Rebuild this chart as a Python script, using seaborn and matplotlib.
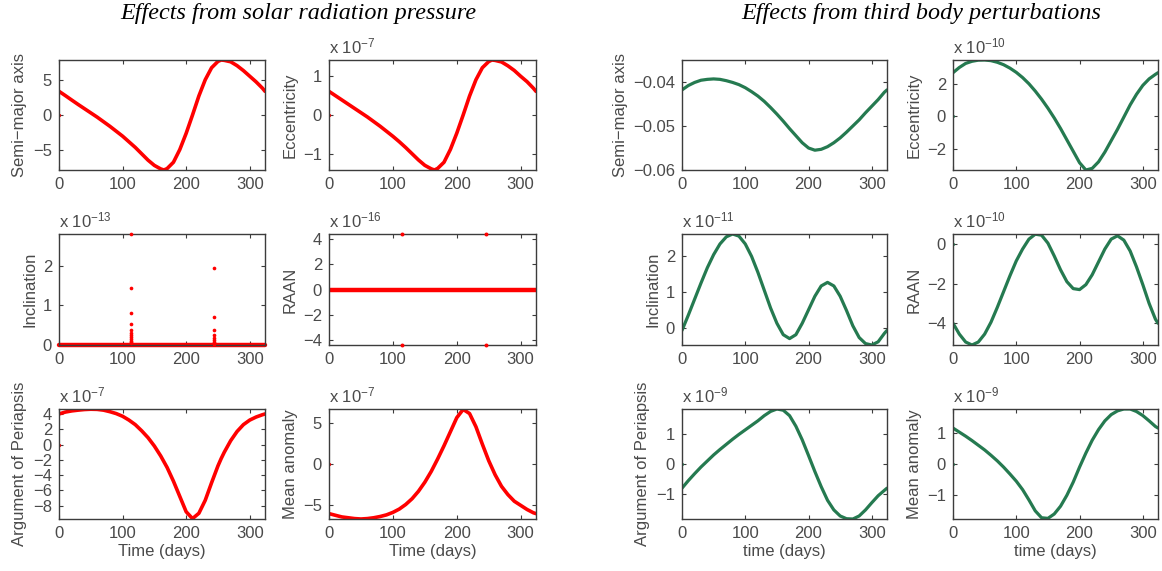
import matplotlib
matplotlib.use('Agg')
import matplotlib.pyplot as plt
import seaborn as sns

sns.set_theme(style='white')
plt.rcParams['font.family'] = ['Liberation Sans', 'DejaVu Sans']
plt.rcParams['mathtext.default'] = 'regular'

# sample days for the third body curves
DAYS = [0, 10, 20, 30, 40, 50, 60, 70, 80, 90, 100, 110, 120, 130, 140, 150, 160,
        170, 180, 190, 200, 210, 220, 230, 240, 250, 260, 270, 280, 290, 300, 310,
        320, 324]
# solar pressure curves get two extra samples at their sharp turns
SRP_DAYS = [0, 10, 20, 30, 40, 50, 60, 70, 80, 90, 100, 110, 120, 130, 140, 150,
            160, 165, 170, 180, 190, 200, 210, 220, 230, 240, 250, 255, 260, 270,
            280, 290, 300, 310, 320, 324]

# --- solar radiation pressure (values in units of the axis exponent) ---
SRP_SMA = [3.36, 2.75, 2.12, 1.5, 0.9, 0.3, -0.3, -0.95, -1.6, -2.3, -3.0, -3.8,
           -4.6, -5.5, -6.4, -7.15, -7.65, -7.8, -7.6, -6.7, -4.9, -2.6, 0.0, 2.7,
           5.0, 6.7, 7.6, 7.8, 7.75, 7.55, 7.0, 6.3, 5.5, 4.7, 3.8, 3.36]
SRP_ECC = [0.61, 0.5, 0.39, 0.28, 0.17, 0.06, -0.05, -0.17, -0.29, -0.42, -0.55,
           -0.69, -0.84, -1.0, -1.16, -1.3, -1.39, -1.42, -1.38, -1.22, -0.89, -0.47,
           0.0, 0.49, 0.91, 1.22, 1.38, 1.42, 1.41, 1.37, 1.27, 1.15, 1.0, 0.86,
           0.69, 0.61]
SRP_ARGP = [4.0, 4.25, 4.4, 4.5, 4.58, 4.62, 4.6, 4.5, 4.3, 4.05, 3.7, 3.2, 2.6,
            1.8, 0.9, -0.2, -1.5, -2.25, -3.0, -4.8, -6.8, -8.8, -9.7, -9.0, -7.3,
            -5.0, -2.8, -1.85, -1.0, 0.5, 1.7, 2.6, 3.2, 3.6, 3.9, 4.0]
SRP_MA = [-6.0, -6.2, -6.4, -6.5, -6.6, -6.65, -6.6, -6.5, -6.35, -6.15, -5.85,
          -5.45, -4.9, -4.2, -3.3, -2.2, -0.9, -0.15, 0.6, 2.2, 3.9, 5.6, 6.6, 6.1,
          4.5, 2.4, 0.4, -0.45, -1.3, -2.7, -3.7, -4.5, -5.0, -5.5, -5.9, -6.0]

# inclination and RAAN are zero apart from a few numerical spikes
ZERO_DAYS = [0, 324]
ZERO_VALS = [0.0, 0.0]
INC_SPIKE_DAY = [114, 114, 114, 114, 114, 114, 114, 114, 114, 114, 114, 114,
                 244, 244, 244, 244, 244, 244, 244, 244, 244]
INC_SPIKE_VAL = [2.8, 1.43, 0.8, 0.53, 0.37, 0.3, 0.24, 0.19, 0.15, 0.11, 0.07, 0.04,
                 1.93, 0.71, 0.37, 0.24, 0.17, 0.12, 0.08, 0.05, 0.03]
RAAN_SPIKE_DAY = [115, 115, 245, 245]
RAAN_SPIKE_VAL = [4.4, -4.4, 4.4, -4.4]

# --- third body perturbations ---
TB_SMA = [-0.0418, -0.0408, -0.0401, -0.0396, -0.0394, -0.0393, -0.0394, -0.0397,
          -0.0401, -0.0406, -0.0413, -0.0422, -0.0432, -0.0444, -0.0458, -0.0473,
          -0.0489, -0.0506, -0.0522, -0.0538, -0.0550, -0.0555, -0.0553, -0.0547,
          -0.0538, -0.0527, -0.0514, -0.0500, -0.0486, -0.0470, -0.0455, -0.0440,
          -0.0423, -0.0418]
TB_ECC = [2.68, 3.0, 3.25, 3.38, 3.45, 3.46, 3.42, 3.32, 3.17, 2.96, 2.7, 2.38, 2.0,
          1.55, 1.05, 0.5, -0.1, -0.75, -1.45, -2.15, -2.85, -3.3, -3.2, -2.8, -2.2,
          -1.5, -0.8, -0.05, 0.7, 1.35, 1.9, 2.3, 2.58, 2.68]
TB_INC = [-0.08, 0.35, 0.8, 1.25, 1.68, 2.05, 2.35, 2.55, 2.63, 2.57, 2.35, 2.0,
          1.55, 1.05, 0.55, 0.12, -0.2, -0.31, -0.2, 0.12, 0.5, 0.88, 1.17, 1.27,
          1.17, 0.88, 0.48, 0.05, -0.28, -0.45, -0.49, -0.4, -0.16, -0.08]
TB_RAAN = [-4.0, -4.55, -4.95, -5.1, -4.95, -4.55, -3.95, -3.2, -2.4, -1.6, -0.85,
           -0.25, 0.25, 0.5, 0.45, 0.05, -0.6, -1.3, -1.9, -2.25, -2.3, -2.05, -1.55,
           -0.9, -0.25, 0.25, 0.42, 0.2, -0.35, -1.15, -2.05, -3.0, -3.8, -4.0]
TB_ARGP = [-0.8, -0.55, -0.32, -0.1, 0.1, 0.3, 0.48, 0.65, 0.82, 0.98, 1.13, 1.28,
           1.43, 1.6, 1.74, 1.82, 1.78, 1.6, 1.25, 0.8, 0.28, -0.25, -0.75, -1.2,
           -1.52, -1.72, -1.81, -1.82, -1.72, -1.52, -1.28, -1.05, -0.87, -0.8]
TB_MA = [1.15, 1.02, 0.89, 0.75, 0.6, 0.45, 0.28, 0.1, -0.1, -0.32, -0.55, -0.82,
         -1.15, -1.5, -1.72, -1.74, -1.6, -1.35, -1.0, -0.58, -0.1, 0.35, 0.76, 1.1,
         1.38, 1.58, 1.7, 1.76, 1.76, 1.68, 1.55, 1.38, 1.2, 1.15]

LABELS = ['Semi\u2212major axis', 'Eccentricity', 'Inclination', 'RAAN',
          'Argument of Periapsis', 'Mean anomaly']
SRP_EXP = [None, -7, -13, -16, -7, -7]
TB_EXP = [None, -10, -11, -10, -9, -9]
SRP_YTICKS = [[-5, 0, 5], [-1, 0, 1], [0, 1, 2], [-4, -2, 0, 2, 4],
              [-8, -6, -4, -2, 0, 2, 4], [-5, 0, 5]]
TB_YTICKS = [[-0.06, -0.05, -0.04], [-2, 0, 2], [0, 1, 2], [-4, -2, 0],
             [-1, 0, 1], [-1, 0, 1]]
SRP_YLIM = [(-7.8, 7.8), (-1.42, 1.42), (0, 2.8), (-4.4, 4.4), (-9.75, 4.65),
            (-6.65, 6.65)]
TB_YLIM = [(-0.06, -0.035), (-3.3, 3.46), (-0.49, 2.63), (-5.1, 0.51),
           (-1.82, 1.82), (-1.76, 1.76)]

RED = '#ff0000'
GREEN = '#257a50'
TEXT = '#4a4a4a'
EDGE = '#3c3c3c'

W, H = 1162, 571
fig = plt.figure(figsize=(W / 100, H / 100), dpi=100)

col_left = [59, 329, 682, 953]
col_w = [206, 207, 205, 205]
row_top = [60, 234, 409]
row_h = [110, 111, 110]


def make_ax(col, row):
    l, t, w, h = col_left[col], row_top[row], col_w[col], row_h[row]
    ax = fig.add_axes([l / W, 1 - (t + h) / H, w / W, h / H])
    for s in ax.spines.values():
        s.set_color(EDGE)
        s.set_linewidth(1.0)
    ax.tick_params(direction='in', length=3, width=0.8, color=EDGE,
                   labelsize=12, labelcolor=TEXT, pad=5,
                   top=True, right=True, bottom=True, left=True)
    ax.set_xlim(0, 324)
    ax.set_xticks([0, 100, 200, 300])
    return ax


def finish(ax, i, exps, yticks, ylims, xlabel):
    ax.set_ylim(*ylims[i])
    ax.set_yticks(yticks[i])
    ax.set_ylabel(LABELS[i], fontsize=12, color=TEXT, labelpad=4)
    if exps[i] is not None:
        ax.text(0, 1.03, 'x 10$^{%d}$' % exps[i], transform=ax.transAxes,
                ha='left', va='bottom', fontsize=12, color=TEXT)
    if i >= 4:
        ax.set_xlabel(xlabel, fontsize=12, color=TEXT, labelpad=2)
    else:
        ax.set_xlabel('')


srp_curves = {0: SRP_SMA, 1: SRP_ECC, 4: SRP_ARGP, 5: SRP_MA}
tb_curves = [TB_SMA, TB_ECC, TB_INC, TB_RAAN, TB_ARGP, TB_MA]

for i in range(6):
    row, c = divmod(i, 2)
    ax = make_ax(c, row)
    if i in srp_curves:
        sns.lineplot(x=SRP_DAYS, y=srp_curves[i], ax=ax, color=RED, linewidth=2.6)
        sns.scatterplot(x=[0], y=[0], ax=ax, color=RED, s=6, linewidth=0)
    elif i == 2:
        sns.lineplot(x=ZERO_DAYS, y=ZERO_VALS, ax=ax, color=RED, linewidth=3.2,
                     clip_on=False)
        sns.scatterplot(x=INC_SPIKE_DAY, y=INC_SPIKE_VAL, ax=ax, color=RED, s=7,
                        linewidth=0, clip_on=False, zorder=5)
    else:
        sns.lineplot(x=ZERO_DAYS, y=ZERO_VALS, ax=ax, color=RED, linewidth=3.2)
        sns.scatterplot(x=RAAN_SPIKE_DAY, y=RAAN_SPIKE_VAL, ax=ax, color=RED, s=8,
                        linewidth=0, clip_on=False, zorder=5)
    finish(ax, i, SRP_EXP, SRP_YTICKS, SRP_YLIM, 'Time (days)')

for i in range(6):
    row, c = divmod(i, 2)
    ax = make_ax(c + 2, row)
    sns.lineplot(x=DAYS, y=tb_curves[i], ax=ax, color=GREEN, linewidth=2.3)
    sns.scatterplot(x=[0], y=[0], ax=ax, color=GREEN, s=5, linewidth=0)
    finish(ax, i, TB_EXP, TB_YTICKS, TB_YLIM, 'time (days)')

title_font = ['Liberation Serif', 'DejaVu Serif']
fig.text(298 / W, 1 - 14 / H, 'Effects from solar radiation pressure',
         ha='center', va='center', fontsize=17.4, style='italic', family=title_font,
         color='black')
fig.text(921 / W, 1 - 14 / H, 'Effects from third body perturbations',
         ha='center', va='center', fontsize=17.4, style='italic', family=title_font,
         color='black')

fig.savefig('out.png', dpi=100)
